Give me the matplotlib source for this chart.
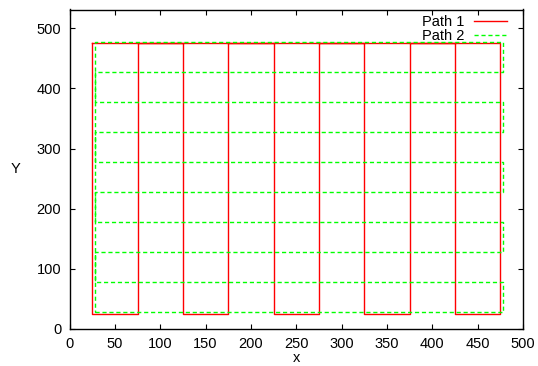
import matplotlib
matplotlib.use("Agg")
import matplotlib.pyplot as plt

# Path 1: closed serpentine loop (vertical sweeps)
path1_x = [25, 25, 75, 75, 125, 125, 175, 175, 225, 225, 275, 275, 325, 325,
           375, 375, 425, 425, 475, 475, 25]
path1_y = [475, 25, 25, 475, 475, 25, 25, 475, 475, 25, 25, 475, 475, 25,
           25, 475, 475, 25, 25, 475, 475]

# Path 2: closed serpentine loop (horizontal sweeps)
path2_x = [28, 478, 478, 28, 28, 478, 478, 28, 28, 478, 478, 28, 28, 478,
           478, 28, 28, 478, 478, 28, 28]
path2_y = [28, 28, 78, 78, 128, 128, 178, 178, 228, 228, 278, 278, 328, 328,
           378, 378, 428, 428, 478, 478, 28]

x_ticks = [0, 50, 100, 150, 200, 250, 300, 350, 400, 450, 500]
y_ticks = [0, 100, 200, 300, 400, 500]

plt.rcParams['font.family'] = ['Liberation Sans', 'DejaVu Sans']

fig = plt.figure(figsize=(5.38, 3.66), dpi=100)
top_px = 9.5
ax = fig.add_axes([69.5/538, 1-329/366, (523-69.5)/538, (329-top_px)/366])

ax.plot(path1_x, path1_y, color='#ff0000', lw=1.0, label='Path 1')
ax.plot(path2_x, path2_y, color='#00ff00', lw=1.0, ls=(0, (3, 2)), label='Path 2')

ax.set_xlim(0, 500)
ax.set_ylim(0, (329-top_px)/0.6014)
ax.set_xticks(x_ticks)
ax.set_yticks(y_ticks)
ax.tick_params(direction='in', top=True, right=True, length=3.6, width=0.8,
               labelsize=10.5, pad=6)
for s in ax.spines.values():
    s.set_linewidth(1.0)

ax.set_xlabel('x', fontsize=10.5, labelpad=0)
ax.set_ylabel('Y', fontsize=10.5, rotation=0, va='center', ha='center')
ax.yaxis.set_label_coords(-0.12, 0.50)

leg = ax.legend(loc='upper right', frameon=False, fontsize=10.5, markerfirst=False,
                handlelength=2.3, handletextpad=0.65, borderaxespad=0.0,
                labelspacing=0.0, bbox_to_anchor=(0.978, 1.0))
for t in leg.get_texts():
    t.set_ha('right')

fig.savefig('out.png', dpi=100)
